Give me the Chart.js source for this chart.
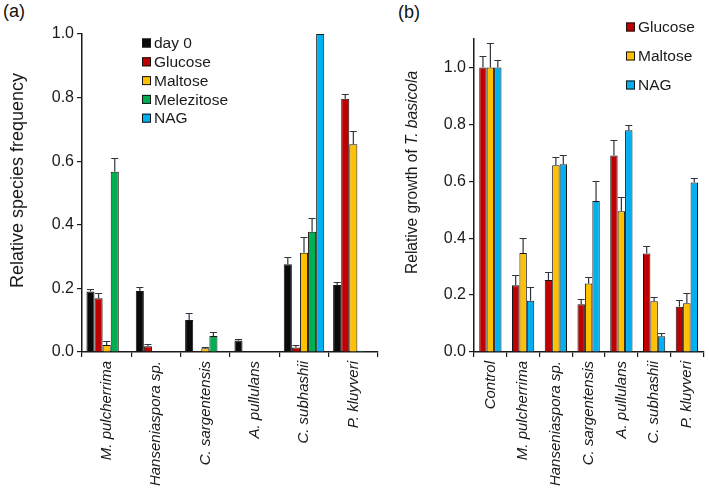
<!DOCTYPE html>
<html>
<head>
<meta charset="utf-8">
<script src="https://cdn.jsdelivr.net/npm/chart.js@4.4.0/dist/chart.umd.min.js"></script>
<style>
body { margin: 0; background: #fff; width: 709px; height: 498px; position: relative; overflow: hidden; font-family: Arial, 'Liberation Sans', sans-serif; }
#wrapA { position: absolute; left: 0; top: 0; width: 380px; height: 498px; }
#wrapB { position: absolute; left: 380px; top: 0; width: 329px; height: 498px; }
.panel { position: absolute; font-size: 18px; color: #111; }
</style>
</head>
<body>
<div class="panel" style="left:3px;top:1px">(a)</div>
<div class="panel" style="left:398px;top:2px">(b)</div>
<div id="wrapA"><canvas id="chartA"></canvas></div>
<div id="wrapB"><canvas id="chartB"></canvas></div>
<script>
// panel (a): relative species frequency
const speciesA = ['M. pulcherrima', 'Hanseniaspora sp.', 'C. sargentensis', 'A. pullulans', 'C. subhashii', 'P. kluyveri'];
const day0 = [0.190, 0.192, 0.101, 0.036, 0.276, 0.211];
const day0Err = [0.007, 0.012, 0.023, 0.005, 0.024, 0.010];
const glucoseA = [0.169, 0.018, 0.003, 0, 0.014, 0.796];
const glucoseAErr = [0.018, 0.006, 0, 0, 0.008, 0.014];
const maltoseA = [0.022, 0, 0.012, 0, 0.312, 0.653];
const maltoseAErr = [0.013, 0, 0.005, 0, 0.051, 0.042];
const melezitoseA = [0.567, 0, 0.050, 0, 0.378, 0.004];
const melezitoseAErr = [0.042, 0, 0.012, 0, 0.042, 0];
const nagA = [0, 0, 0, 0, 1.0, 0];
const nagAErr = [0, 0, 0, 0, 0, 0];
const ticksA = [0, 0.2, 0.4, 0.6, 0.8, 1.0];

// panel (b): relative growth of T. basicola
const speciesB = ['Control', 'M. pulcherrima', 'Hanseniaspora sp.', 'C. sargentensis', 'A. pullulans', 'C. subhashii', 'P. kluyveri'];
const glucoseB = [1.0, 0.235, 0.253, 0.168, 0.691, 0.346, 0.159];
const glucoseBErr = [0.042, 0.037, 0.027, 0.020, 0.053, 0.028, 0.022];
const maltoseB = [1.0, 0.348, 0.656, 0.241, 0.495, 0.178, 0.171];
const maltoseBErr = [0.085, 0.051, 0.029, 0.021, 0.050, 0.016, 0.035];
const nagB = [1.0, 0.180, 0.660, 0.531, 0.779, 0.055, 0.596];
const nagBErr = [0.027, 0.049, 0.031, 0.070, 0.020, 0.013, 0.017];
const ticksB = [0, 0.2, 0.4, 0.6, 0.8, 1.0];

const FONT = "Arial, 'Liberation Sans', sans-serif";
const INK = '#1a1a1a';
const colors = { day0: '#0a0a0a', glucose: '#C00000', maltose: '#FFC000', melezitose: '#00B050', nag: '#00B0F0' };

function bars(label, data, errors, color) {
    return {
        label: label,
        data: data,
        errors: errors,
        backgroundColor: color,
        borderColor: '#161616',
        borderWidth: 1
    };
}

// upper error bars with caps
const errorBars = {
    id: 'errorBars',
    afterDatasetsDraw(chart) {
        const ctx = chart.ctx;
        const y = chart.scales.y;
        ctx.save();
        ctx.strokeStyle = '#2c3440';
        ctx.lineWidth = 1.2;
        chart.data.datasets.forEach((ds, i) => {
            chart.getDatasetMeta(i).data.forEach((bar, j) => {
                const e = ds.errors[j];
                if (!e) return;
                const top = Math.round(y.getPixelForValue(ds.data[j] + e)) + 0.5;
                ctx.beginPath();
                ctx.moveTo(bar.x, bar.y);
                ctx.lineTo(bar.x, top);
                ctx.moveTo(bar.x - 3.5, top);
                ctx.lineTo(bar.x + 3.5, top);
                ctx.stroke();
            });
        });
        ctx.restore();
    }
};

// legend drawn as a plain list of boxes + labels
const boxLegend = {
    id: 'boxLegend',
    afterDraw(chart, args, opts) {
        const ctx = chart.ctx;
        ctx.save();
        ctx.font = '15.5px ' + FONT;
        ctx.textBaseline = 'middle';
        chart.data.datasets.forEach((ds, i) => {
            const cy = opts.y + i * opts.step;
            ctx.fillStyle = ds.backgroundColor;
            ctx.fillRect(opts.x, cy - 4.5, 9, 9);
            ctx.strokeStyle = '#161616';
            ctx.lineWidth = 1;
            ctx.strokeRect(opts.x + 0.5, cy - 4, 8, 8);
            ctx.fillStyle = INK;
            ctx.fillText(ds.label, opts.x + 12, cy + 1);
        });
        ctx.restore();
    }
};

// rotated y title, parts may be italic
const yTitle = {
    id: 'yTitle',
    afterDraw(chart, args, opts) {
        const ctx = chart.ctx;
        const area = chart.chartArea;
        ctx.save();
        ctx.fillStyle = INK;
        ctx.textBaseline = 'middle';
        const fonts = opts.parts.map(p => (p.italic ? 'italic ' : '') + opts.size + 'px ' + FONT);
        let total = 0;
        const widths = opts.parts.map((p, k) => { ctx.font = fonts[k]; const w = ctx.measureText(p.text).width; total += w; return w; });
        ctx.translate(opts.x, (area.top + area.bottom) / 2 + (opts.shift || 0));
        ctx.rotate(-Math.PI / 2);
        let x = -total / 2;
        opts.parts.forEach((p, k) => { ctx.font = fonts[k]; ctx.fillText(p.text, x, 0); x += widths[k]; });
        ctx.restore();
    }
};

function axes(tickValues, max, yWidth) {
    return {
        x: {
            grid: { offset: true, drawOnChartArea: false, tickLength: 5, color: INK, lineWidth: 1.2 },
            border: { color: INK, width: 1.5 },
            ticks: { minRotation: 90, maxRotation: 90, autoSkip: false, padding: 4, color: INK, font: { family: FONT, size: 15, style: 'italic' } },
            afterFit: s => { s.height = 146; }
        },
        y: {
            min: 0,
            max: max,
            grid: { drawOnChartArea: false, tickLength: 5, color: INK, lineWidth: 1.2 },
            border: { color: INK, width: 1.5 },
            ticks: { padding: 3, color: INK, font: { family: FONT, size: 16 }, callback: v => v.toFixed(1) },
            afterBuildTicks: s => { s.ticks = tickValues.map(v => ({ value: v })); },
            afterFit: s => { s.width = yWidth; }
        }
    };
}

new Chart(document.getElementById('chartA'), {
    type: 'bar',
    data: {
        labels: speciesA,
        datasets: [
            bars('day 0', day0, day0Err, colors.day0),
            bars('Glucose', glucoseA, glucoseAErr, colors.glucose),
            bars('Maltose', maltoseA, maltoseAErr, colors.maltose),
            bars('Melezitose', melezitoseA, melezitoseAErr, colors.melezitose),
            bars('NAG', nagA, nagAErr, colors.nag)
        ]
    },
    options: {
        responsive: true,
        maintainAspectRatio: false,
        animation: false,
        datasets: { bar: { categoryPercentage: 0.82, barPercentage: 1 } },
        layout: { padding: { top: 34, right: 2, left: 0, bottom: 0 } },
        scales: axes(ticksA, 1.0, 82),
        plugins: {
            legend: { display: false },
            tooltip: { enabled: false },
            boxLegend: { x: 142, y: 43, step: 18.8 },
            yTitle: { x: 18, size: 18, shift: -12.5, parts: [{ text: 'Relative species frequency' }] }
        }
    },
    plugins: [errorBars, boxLegend, yTitle]
});

new Chart(document.getElementById('chartB'), {
    type: 'bar',
    data: {
        labels: speciesB,
        datasets: [
            bars('Glucose', glucoseB, glucoseBErr, colors.glucose),
            bars('Maltose', maltoseB, maltoseBErr, colors.maltose),
            bars('NAG', nagB, nagBErr, colors.nag)
        ]
    },
    options: {
        responsive: true,
        maintainAspectRatio: false,
        animation: false,
        datasets: { bar: { categoryPercentage: 0.68, barPercentage: 1 } },
        layout: { padding: { top: 39, right: 2, left: 0, bottom: 0 } },
        scales: axes(ticksB, 1.1, 94),
        plugins: {
            legend: { display: false },
            tooltip: { enabled: false },
            boxLegend: { x: 246, y: 27, step: 29 },
            yTitle: { x: 33, size: 15.6, shift: -23, parts: [{ text: 'Relative growth of ' }, { text: 'T. basicola', italic: true }] }
        }
    },
    plugins: [errorBars, boxLegend, yTitle]
});
</script>
</body>
</html>
